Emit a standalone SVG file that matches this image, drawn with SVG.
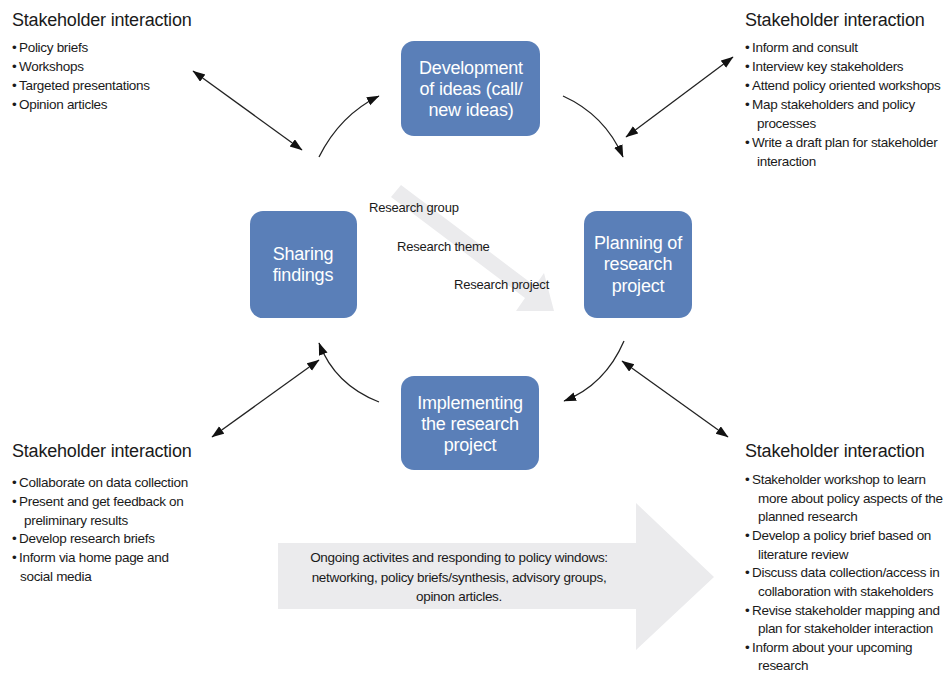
<svg xmlns="http://www.w3.org/2000/svg" width="951" height="675" viewBox="0 0 951 675">
<defs>
<marker id="ah" markerWidth="13" markerHeight="10" refX="12" refY="4.5" orient="auto-start-reverse" markerUnits="userSpaceOnUse">
<path d="M0,0 L12.5,4.5 L0,9 Z" fill="#111"/>
</marker>
</defs>
<style>
.node rect{fill:#5a7fb8}
.nt{font-family:"Liberation Sans",Arial,sans-serif;font-size:18px;fill:#fff;text-anchor:middle;letter-spacing:-0.2px}
.hd{font-family:"Liberation Sans",Arial,sans-serif;font-size:18px;fill:#1a1a1a;letter-spacing:-0.2px}
.li{font-family:"Liberation Sans",Arial,sans-serif;font-size:13.5px;fill:#1a1a1a;letter-spacing:-0.3px}
.lb{font-family:"Liberation Sans",Arial,sans-serif;font-size:13px;fill:#1a1a1a;letter-spacing:-0.2px}
.gray{fill:#ebebed}
.con path,.con line{fill:none;stroke:#222;stroke-width:1.3;marker-end:url(#ah)}
.con .dbl{marker-start:url(#ah)}
</style>
<rect width="951" height="675" fill="#fff"/>

<g id="bigArrow">
<polygon class="gray" points="278,543 636,543 636,503 714,577 636,650 636,609 278,609"/>
<text class="li" text-anchor="middle" x="459" y="562">Ongoing activites and responding to policy windows:</text>
<text class="li" text-anchor="middle" x="459" y="582">networking, policy briefs/synthesis, advisory groups,</text>
<text class="li" text-anchor="middle" x="459" y="601">opinon articles.</text>
</g>

<g id="diagArrow">
<polygon class="gray" points="401,185 535,286 544,273 554,311 516,311 525,298 391,197"/>
</g>

<g id="labels">
<text class="lb" x="369" y="212">Research group</text>
<text class="lb" x="397" y="251">Research theme</text>
<text class="lb" x="454" y="289">Research project</text>
</g>

<g id="n-development" class="node">
<rect x="401" y="41" width="139" height="95" rx="13"/>
<text class="nt" x="471" y="74">Development</text>
<text class="nt" x="471" y="95">of ideas (call/</text>
<text class="nt" x="471" y="116">new ideas)</text>
</g>
<g id="n-sharing" class="node">
<rect x="250" y="211" width="107" height="107" rx="13"/>
<text class="nt" x="303" y="260">Sharing</text>
<text class="nt" x="303" y="281">findings</text>
</g>
<g id="n-planning" class="node">
<rect x="584" y="211" width="108" height="107" rx="13"/>
<text class="nt" x="638" y="249">Planning of</text>
<text class="nt" x="638" y="270">research</text>
<text class="nt" x="638" y="292">project</text>
</g>
<g id="n-implementing" class="node">
<rect x="401" y="376" width="138" height="94" rx="13"/>
<text class="nt" x="470" y="409">Implementing</text>
<text class="nt" x="470" y="430">the research</text>
<text class="nt" x="470" y="451">project</text>
</g>

<g id="connectors" class="con">
<path d="M319,157 Q340,115 379,96"/>
<path d="M563,96 Q605,115 623,157"/>
<path d="M624,341 Q605,385 564,401"/>
<path d="M379,402 Q335,385 319,343"/>
<line class="dbl" x1="193" y1="71" x2="302" y2="150"/>
<line class="dbl" x1="626" y1="137" x2="733" y2="57"/>
<line class="dbl" x1="212" y1="437" x2="319" y2="360"/>
<line class="dbl" x1="622" y1="361" x2="728" y2="437"/>
</g>

<g id="sh-topleft">
<text class="hd" x="12" y="26">Stakeholder interaction</text>
<text class="li" y="52"><tspan x="12">•</tspan><tspan x="19">Policy briefs</tspan></text>
<text class="li" y="71"><tspan x="12">•</tspan><tspan x="19">Workshops</tspan></text>
<text class="li" y="90"><tspan x="12">•</tspan><tspan x="19">Targeted presentations</tspan></text>
<text class="li" y="109"><tspan x="12">•</tspan><tspan x="19">Opinion articles</tspan></text>
</g>

<g id="sh-topright">
<text class="hd" x="745" y="26">Stakeholder interaction</text>
<text class="li" y="52"><tspan x="745">•</tspan><tspan x="752">Inform and consult</tspan></text>
<text class="li" y="71"><tspan x="745">•</tspan><tspan x="752">Interview key stakeholders</tspan></text>
<text class="li" y="90"><tspan x="745">•</tspan><tspan x="752">Attend policy oriented workshops</tspan></text>
<text class="li" y="109"><tspan x="745">•</tspan><tspan x="752">Map stakeholders and policy</tspan></text>
<text class="li" x="757" y="128">processes</text>
<text class="li" y="147"><tspan x="745">•</tspan><tspan x="752">Write a draft plan for stakeholder</tspan></text>
<text class="li" x="757" y="166">interaction</text>
</g>

<g id="sh-bottomleft">
<text class="hd" x="12" y="457">Stakeholder interaction</text>
<text class="li" y="487"><tspan x="12">•</tspan><tspan x="19">Collaborate on data collection</tspan></text>
<text class="li" y="506"><tspan x="12">•</tspan><tspan x="19">Present and get feedback on</tspan></text>
<text class="li" x="24" y="525">preliminary results</text>
<text class="li" y="543"><tspan x="12">•</tspan><tspan x="19">Develop research briefs</tspan></text>
<text class="li" y="562"><tspan x="12">•</tspan><tspan x="19">Inform via home page and</tspan></text>
<text class="li" x="20" y="581">social media</text>
</g>

<g id="sh-bottomright">
<text class="hd" x="745" y="457">Stakeholder interaction</text>
<text class="li" y="484"><tspan x="745">•</tspan><tspan x="752">Stakeholder workshop to learn</tspan></text>
<text class="li" x="758" y="503">more about policy aspects of the</text>
<text class="li" x="758" y="521">planned research</text>
<text class="li" y="540"><tspan x="745">•</tspan><tspan x="752">Develop a policy brief based on</tspan></text>
<text class="li" x="758" y="559">literature review</text>
<text class="li" y="577"><tspan x="745">•</tspan><tspan x="752">Discuss data collection/access in</tspan></text>
<text class="li" x="758" y="596">collaboration with stakeholders</text>
<text class="li" y="615"><tspan x="745">•</tspan><tspan x="752">Revise stakeholder mapping and</tspan></text>
<text class="li" x="758" y="633">plan for stakeholder interaction</text>
<text class="li" y="652"><tspan x="745">•</tspan><tspan x="752">Inform about your upcoming</tspan></text>
<text class="li" x="758" y="670">research</text>
</g>
</svg>
